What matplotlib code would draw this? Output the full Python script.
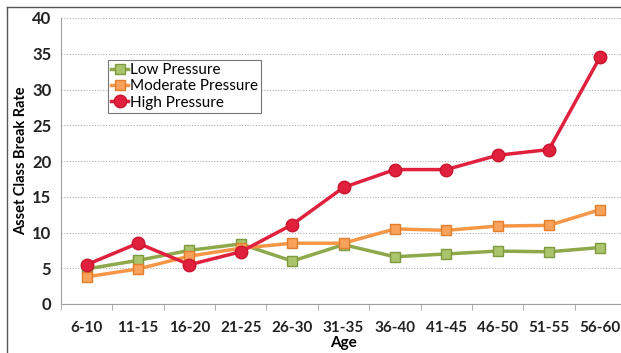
import matplotlib
matplotlib.use('Agg')
import matplotlib.pyplot as plt
from matplotlib.lines import Line2D

plt.rcParams['font.family'] = ['Lato', 'DejaVu Sans']

ages = ['6-10', '11-15', '16-20', '21-25', '26-30', '31-35',
        '36-40', '41-45', '46-50', '51-55', '56-60']
low = [4.9, 6.1, 7.5, 8.4, 6.0, 8.3, 6.6, 7.0, 7.4, 7.3, 7.9]
moderate = [3.8, 4.9, 6.7, 7.8, 8.5, 8.5, 10.5, 10.3, 10.9, 11.0, 13.2]
high = [5.5, 8.5, 5.5, 7.3, 11.1, 16.3, 18.8, 18.8, 20.8, 21.6, 34.6]

W, H = 621, 353
fig = plt.figure(figsize=(W / 100, H / 100), dpi=100)
ax = fig.add_axes([61 / W, (H - 304) / H, 565 / W, 286 / H])

x = list(range(len(ages)))
ax.plot(x, low, '-s', color='#8EA84A', lw=2.5, ms=7.5,
        mfc='#A9C46A', mec='#7F9A3E', label='Low Pressure', zorder=3)
ax.plot(x, moderate, '-s', color='#F79646', lw=2.5, ms=7.5,
        mfc='#F8A15A', mec='#E07E2E', label='Moderate Pressure', zorder=3)
ax.plot(x, high, '-o', color='#E0203C', lw=2.5, ms=9,
        mfc='#E0203C', mec='#C8162E', label='High Pressure', zorder=4)

ax.set_xlim(-0.5, len(ages) - 0.5)
ax.set_ylim(0, 40)
ax.set_yticks(range(0, 41, 5))
ax.set_xticks(x)
ax.set_xticklabels(ages)
ax.set_xticks([i - 0.5 for i in range(len(ages) + 1)], minor=True)
ax.tick_params(axis='x', which='major', length=0, pad=12)
ax.tick_params(axis='x', which='minor', length=4, color='#A0A0A0', direction='out')
ax.tick_params(axis='y', length=0, pad=7)
for lab in ax.get_xticklabels():
    lab.set_fontsize(11)
    lab.set_fontweight('bold')
    lab.set_color('#222222')
for lab in ax.get_yticklabels():
    lab.set_fontsize(12)
    lab.set_fontweight('bold')
    lab.set_color('#222222')

ax.grid(axis='y', color='#B0B0B0', ls=(0, (1, 1.5)), lw=0.8)
ax.set_axisbelow(True)
for s in ['top', 'right']:
    ax.spines[s].set_visible(False)
ax.spines['left'].set_color('#A0A0A0')
ax.spines['bottom'].set_color('#A0A0A0')
ax.spines['bottom'].set_linestyle((0, (2, 1)))

ax.set_xlabel('Age', fontsize=11, fontweight='bold', labelpad=1)
ax.set_ylabel('Asset Class Break Rate', fontsize=10.5, fontweight='bold', labelpad=3)

leg = ax.legend(loc='upper left', bbox_to_anchor=(0.07, 0.88), frameon=True,
                fancybox=False, fontsize=11, handlelength=1.1,
                handletextpad=0.1, borderpad=0.2, labelspacing=0.15)
leg.get_frame().set_edgecolor('#555555')
leg.get_frame().set_linewidth(0.8)

# outer chart border (cropped)
fig.add_artist(Line2D([7 / W, 1], [1 - 7 / H, 1 - 7 / H], color='#555555', lw=1))
fig.add_artist(Line2D([7 / W, 7 / W], [0, 1 - 7 / H], color='#555555', lw=1))

fig.savefig('out.png', dpi=100)
